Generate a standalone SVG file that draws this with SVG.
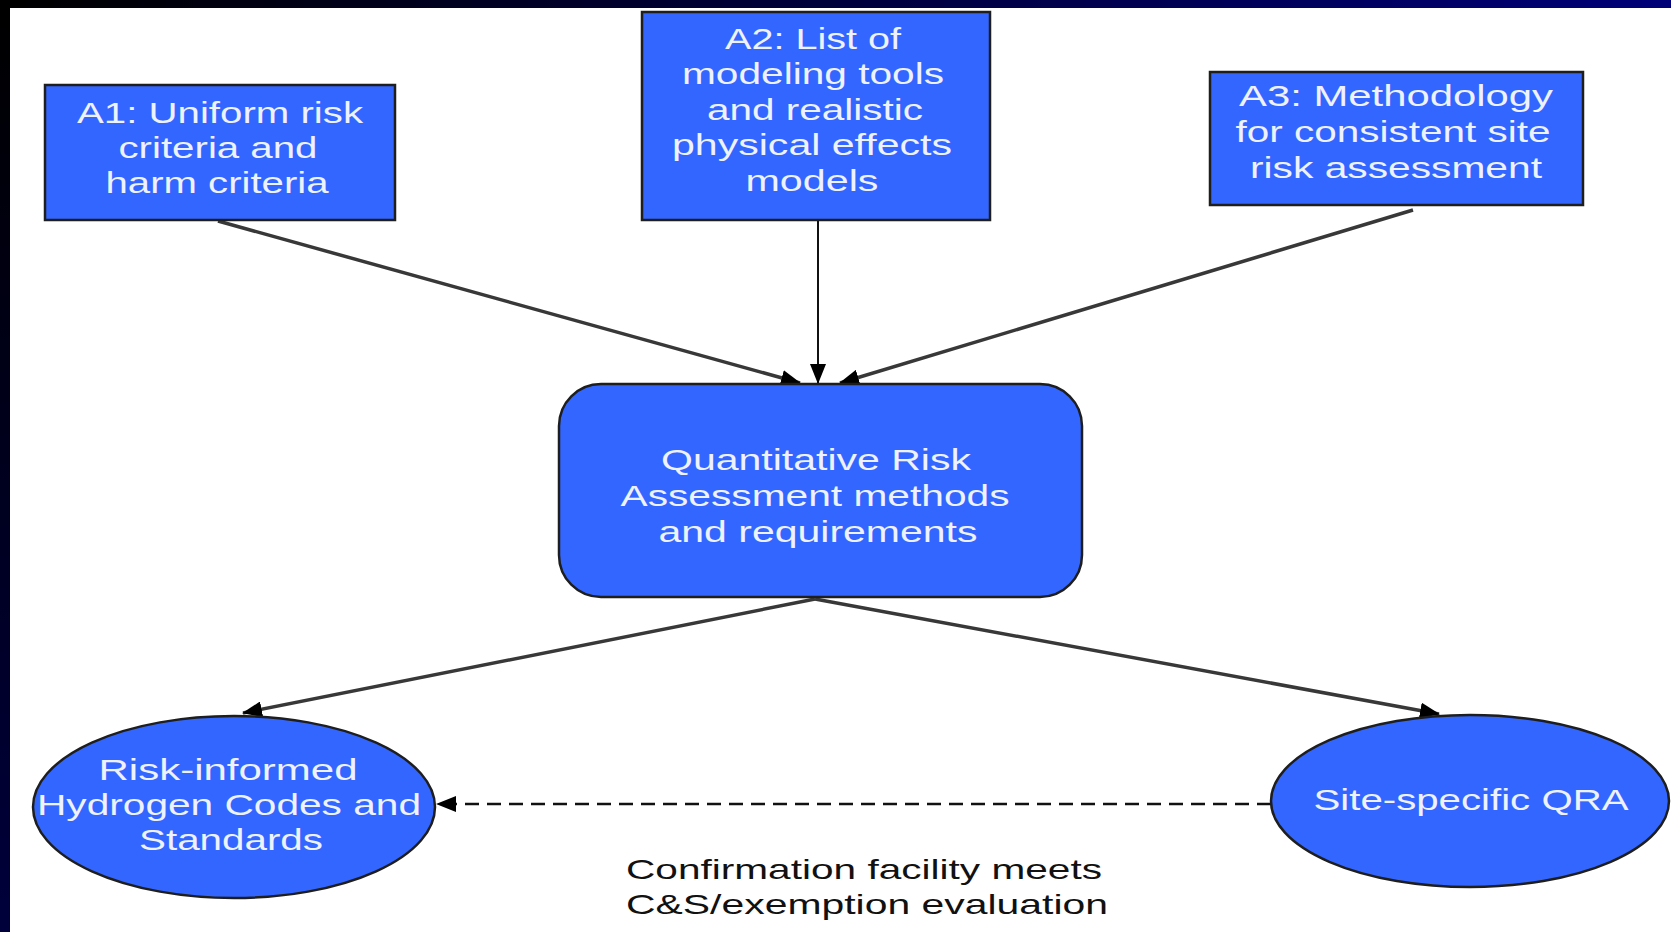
<svg xmlns="http://www.w3.org/2000/svg" width="1671" height="932" viewBox="0 0 1671 932">
  <defs>
    <linearGradient id="topBand" x1="0" y1="0" x2="1" y2="0">
      <stop offset="0" stop-color="#000000"/>
      <stop offset="1" stop-color="#000078"/>
    </linearGradient>
    <linearGradient id="leftBand" x1="0" y1="0" x2="0" y2="1">
      <stop offset="0" stop-color="#000000"/>
      <stop offset="1" stop-color="#00003c"/>
    </linearGradient>
    <marker id="arrow" markerUnits="userSpaceOnUse" markerWidth="20" markerHeight="16" viewBox="0 0 20 16" refX="19" refY="8" orient="auto">
      <path d="M0,0 L20,8 L0,16 Z" fill="#000"/>
    </marker>
    <style>
      .node { fill: #3366ff; stroke: #1e1e1e; stroke-width: 2.5; }
      .label { font-family: "Liberation Sans", Arial, sans-serif; font-size: 29px; fill: #eef2ff; text-anchor: middle; }
      .note { font-family: "Liberation Sans", Arial, sans-serif; font-size: 28px; fill: #111; text-anchor: start; }
      .conn { stroke: #383838; stroke-width: 3.5; fill: none; }
      .connThin { stroke: #111; stroke-width: 2; fill: none; }
      .dash { stroke: #111; stroke-width: 2.5; fill: none; stroke-dasharray: 14 8; }
    </style>
  </defs>

  <rect x="0" y="0" width="1671" height="932" fill="#ffffff"/>
  <rect x="0" y="0" width="1671" height="8" fill="url(#topBand)"/>
  <rect x="0" y="0" width="10" height="932" fill="url(#leftBand)"/>

  <g id="connectors">
    <line class="conn" x1="218" y1="221" x2="800" y2="383" marker-end="url(#arrow)"/>
    <line class="connThin" x1="818" y1="220" x2="818" y2="383" marker-end="url(#arrow)"/>
    <line class="conn" x1="1413" y1="210" x2="840" y2="383" marker-end="url(#arrow)"/>
    <line class="conn" x1="815" y1="599" x2="243" y2="713" marker-end="url(#arrow)"/>
    <line class="conn" x1="815" y1="599" x2="1439" y2="714" marker-end="url(#arrow)"/>
    <line class="dash" x1="1271" y1="804" x2="437" y2="804" marker-end="url(#arrow)"/>
  </g>

  <g id="A1">
    <rect class="node" x="45" y="85" width="350" height="135"/>
    <text class="label" x="220" y="123" textLength="286" lengthAdjust="spacingAndGlyphs">A1: Uniform risk</text>
    <text class="label" x="218" y="158" textLength="199" lengthAdjust="spacingAndGlyphs">criteria and</text>
    <text class="label" x="217" y="193" textLength="223" lengthAdjust="spacingAndGlyphs">harm criteria</text>
  </g>

  <g id="A2">
    <rect class="node" x="642" y="12" width="348" height="208"/>
    <text class="label" x="813" y="49" textLength="176" lengthAdjust="spacingAndGlyphs">A2: List of</text>
    <text class="label" x="813" y="84" textLength="262" lengthAdjust="spacingAndGlyphs">modeling tools</text>
    <text class="label" x="815" y="120" textLength="216" lengthAdjust="spacingAndGlyphs">and realistic</text>
    <text class="label" x="812" y="155" textLength="280" lengthAdjust="spacingAndGlyphs">physical effects</text>
    <text class="label" x="812" y="191" textLength="133" lengthAdjust="spacingAndGlyphs">models</text>
  </g>

  <g id="A3">
    <rect class="node" x="1210" y="72" width="373" height="133"/>
    <text class="label" x="1396" y="106" textLength="314" lengthAdjust="spacingAndGlyphs">A3:  Methodology</text>
    <text class="label" x="1393" y="142" textLength="315" lengthAdjust="spacingAndGlyphs">for consistent site</text>
    <text class="label" x="1396" y="178" textLength="292" lengthAdjust="spacingAndGlyphs">risk assessment</text>
  </g>

  <g id="QRA">
    <rect class="node" x="559" y="384" width="523" height="213" rx="42" ry="42"/>
    <text class="label" x="816" y="470" textLength="310" lengthAdjust="spacingAndGlyphs">Quantitative Risk</text>
    <text class="label" x="815" y="506" textLength="389" lengthAdjust="spacingAndGlyphs">Assessment methods</text>
    <text class="label" x="818" y="542" textLength="319" lengthAdjust="spacingAndGlyphs">and requirements</text>
  </g>

  <g id="CodesStandards">
    <ellipse class="node" cx="234" cy="807" rx="201" ry="91"/>
    <text class="label" x="228" y="780" textLength="259" lengthAdjust="spacingAndGlyphs">Risk-informed</text>
    <text class="label" x="229" y="815" textLength="384" lengthAdjust="spacingAndGlyphs">Hydrogen Codes and</text>
    <text class="label" x="231" y="850" textLength="184" lengthAdjust="spacingAndGlyphs">Standards</text>
  </g>

  <g id="SiteQRA">
    <ellipse class="node" cx="1470" cy="801" rx="199" ry="86"/>
    <text class="label" x="1471" y="810" textLength="315" lengthAdjust="spacingAndGlyphs">Site-specific QRA</text>
  </g>

  <g id="note">
    <text class="note" x="626" y="879" textLength="476" lengthAdjust="spacingAndGlyphs">Confirmation facility meets</text>
    <text class="note" x="626" y="914" textLength="482" lengthAdjust="spacingAndGlyphs">C&amp;S/exemption evaluation</text>
  </g>
</svg>
